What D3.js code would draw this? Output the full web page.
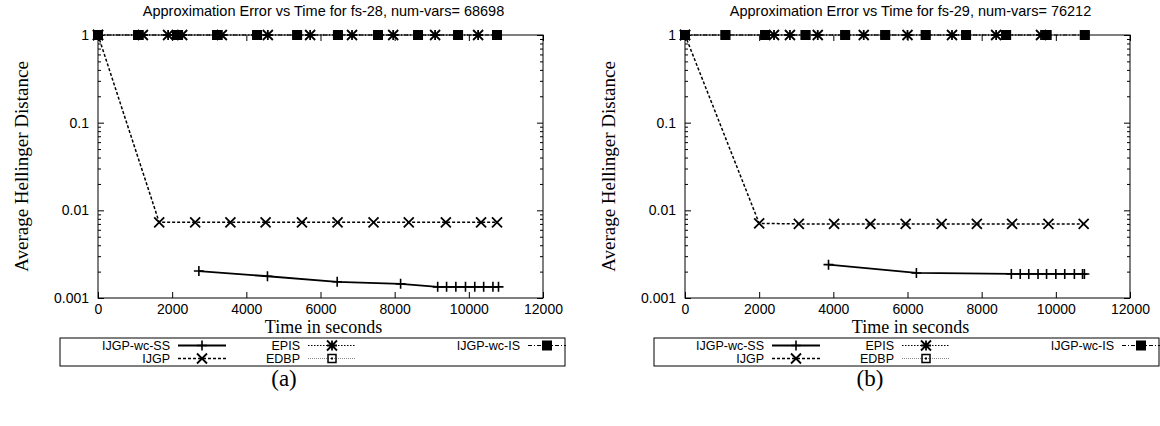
<!DOCTYPE html>
<html>
<head>
<meta charset="utf-8">
<script src="https://cdn.jsdelivr.net/npm/d3@7/dist/d3.min.js"></script>
<style>
body { margin: 0; background: #fff; }
</style>
</head>
<body>
<div id="canvas"></div>
<script>
// ---- data ----
const xTicks = [0, 2000, 4000, 6000, 8000, 10000, 12000];
const yTicks = [1, 0.1, 0.01, 0.001];
const seriesNames = ["IJGP-wc-SS", "IJGP", "EPIS", "EDBP", "IJGP-wc-IS"];

// panel (a) fs-28
const ssTimesA = [2720, 4570, 6450, 8160, 9160, 9400, 9650, 9910, 10160, 10400, 10650, 10800];
const ssValsA = [0.00203, 0.00177, 0.00153, 0.00145, 0.00134, 0.00134, 0.00134, 0.00134, 0.00134, 0.00134, 0.00134, 0.00134];
const ijgpTimesA = [0, 1650, 2620, 3570, 4520, 5500, 6460, 7430, 8380, 9380, 10330, 10760];
const ijgpValsA = [1, 0.0073, 0.0073, 0.0073, 0.0073, 0.0073, 0.0073, 0.0073, 0.0073, 0.0073, 0.0073, 0.0073];
const episTimesA = [0, 1210, 1890, 2270, 3340, 4580, 5720, 6850, 7960, 9090, 10250];
const episValsA = [1, 1, 1, 1, 1, 1, 1, 1, 1, 1, 1];
const edbpTimesA = [0, 1080, 2130, 3210, 4290, 5370, 6470, 7550, 8630, 9710, 10760];
const edbpValsA = [1, 1, 1, 1, 1, 1, 1, 1, 1, 1, 1];
const isTimesA = [0, 1080, 2130, 3210, 4290, 5370, 6470, 7550, 8630, 9710, 10760];
const isValsA = [1, 1, 1, 1, 1, 1, 1, 1, 1, 1, 1];

// panel (b) fs-29
const ssTimesB = [3870, 6240, 8800, 9040, 9270, 9520, 9750, 10000, 10240, 10500, 10720, 10770];
const ssValsB = [0.0024, 0.00193, 0.00188, 0.00188, 0.00188, 0.00188, 0.00188, 0.00188, 0.00188, 0.00188, 0.00188, 0.00188];
const ijgpTimesB = [0, 2000, 3070, 4020, 5000, 5950, 6920, 7870, 8820, 9800, 10750];
const ijgpValsB = [1, 0.0071, 0.0070, 0.0070, 0.0070, 0.0070, 0.0070, 0.0070, 0.0070, 0.0070, 0.0070];
const episTimesB = [0, 2400, 2830, 3580, 4820, 6000, 7200, 8390, 9600];
const episValsB = [1, 1, 1, 1, 1, 1, 1, 1, 1];
const edbpTimesB = [0, 1090, 2160, 3250, 4320, 5400, 6490, 7580, 8660, 9750, 10780];
const edbpValsB = [1, 1, 1, 1, 1, 1, 1, 1, 1, 1, 1];
const isTimesB = [0, 1090, 2160, 3250, 4320, 5400, 6490, 7580, 8660, 9750, 10780];
const isValsB = [1, 1, 1, 1, 1, 1, 1, 1, 1, 1, 1];

const zip = (t, v) => t.map((d, i) => ({ t: d, v: v[i] }));

const panels = [
    {
        title: "Approximation Error vs Time for fs-28, num-vars= 68698",
        caption: "(a)", left: 98, capX: 284, legLeft: 60,
        series: [zip(ssTimesA, ssValsA), zip(ijgpTimesA, ijgpValsA), zip(episTimesA, episValsA),
                 zip(edbpTimesA, edbpValsA), zip(isTimesA, isValsA)]
    },
    {
        title: "Approximation Error vs Time for fs-29, num-vars= 76212",
        caption: "(b)", left: 685, capX: 870, legLeft: 654,
        series: [zip(ssTimesB, ssValsB), zip(ijgpTimesB, ijgpValsB), zip(episTimesB, episValsB),
                 zip(edbpTimesB, edbpValsB), zip(isTimesB, isValsB)]
    }
];

// line / marker styles per series
const styles = [
    { dash: null, w: 1.8, color: "#000", mark: "plus" },
    { dash: "3,2", w: 1.5, color: "#000", mark: "cross" },
    { dash: "1.5,1.5", w: 1.2, color: "#000", mark: "star" },
    { dash: "1,1", w: 1, color: "#888", mark: "box" },
    { dash: "4,2,1,2", w: 1.2, color: "#000", mark: "square" }
];

const width = 1160, height = 426;
const pw = 445, plotTop = 35, plotBottom = 298;
const sans = "'Liberation Sans', Arial, sans-serif";
const serif = "'Liberation Serif', 'Times New Roman', serif";

const svg = d3.select("#canvas").append("svg")
    .attr("width", width).attr("height", height);

function marker(sel, type, cx, cy) {
    const s = 5;
    if (type === "square") {
        sel.append("rect").attr("x", cx - 5).attr("y", cy - 5)
            .attr("width", 10).attr("height", 10).attr("fill", "#000");
        return;
    }
    if (type === "box") {
        sel.append("rect").attr("x", cx - 4).attr("y", cy - 4)
            .attr("width", 8).attr("height", 8).attr("fill", "none")
            .attr("stroke", "#000").attr("stroke-width", 1.5);
        sel.append("rect").attr("x", cx - 1).attr("y", cy - 1)
            .attr("width", 2).attr("height", 2).attr("fill", "#000");
        return;
    }
    let d = "";
    if (type === "plus" || type === "star") d += `M${cx - s},${cy}H${cx + s}M${cx},${cy - s}V${cy + s}`;
    if (type === "cross" || type === "star") d += `M${cx - s},${cy - s}L${cx + s},${cy + s}M${cx - s},${cy + s}L${cx + s},${cy - s}`;
    sel.append("path").attr("d", d).attr("fill", "none")
        .attr("stroke", "#000").attr("stroke-width", type === "plus" ? 1.6 : 1.8);
}

panels.forEach(p => {
    const g = svg.append("g");
    const x = d3.scaleLinear().domain([0, 12000]).range([p.left, p.left + pw]);
    const y = d3.scaleLog().domain([0.001, 1]).range([plotBottom, plotTop]);

    // minor log ticks
    const minors = [];
    [0.001, 0.01, 0.1].forEach(dec => { for (let k = 2; k <= 9; k++) minors.push(dec * k); });

    g.append("g").attr("transform", `translate(0,${plotBottom})`)
        .call(d3.axisBottom(x).tickValues(xTicks).tickSize(-6).tickPadding(6).tickFormat(d3.format("d")));
    g.append("g").attr("transform", `translate(0,${plotTop})`)
        .call(d3.axisTop(x).tickValues(xTicks).tickSize(-6).tickFormat(""));
    g.append("g").attr("transform", `translate(${p.left},0)`)
        .call(d3.axisLeft(y).tickValues(yTicks).tickSize(-6).tickPadding(9).tickFormat(d => String(d)));
    g.append("g").attr("transform", `translate(${p.left + pw},0)`)
        .call(d3.axisRight(y).tickValues(yTicks).tickSize(-6).tickFormat(""));
    g.append("g").attr("transform", `translate(${p.left},0)`)
        .call(d3.axisLeft(y).tickValues(minors).tickSize(-3).tickFormat(""));
    g.append("g").attr("transform", `translate(${p.left + pw},0)`)
        .call(d3.axisRight(y).tickValues(minors).tickSize(-3).tickFormat(""));

    g.selectAll(".domain").remove();
    g.selectAll(".tick line").attr("stroke", "#000");
    g.selectAll(".tick text").attr("font-family", sans).attr("font-size", 14).attr("fill", "#000");

    g.append("rect").attr("x", p.left).attr("y", plotTop).attr("width", pw).attr("height", plotBottom - plotTop)
        .attr("fill", "none").attr("stroke", "#000").attr("stroke-width", 1);

    // series
    const line = d3.line().x(d => x(d.t)).y(d => y(d.v));
    p.series.forEach((data, i) => {
        const st = styles[i];
        g.append("path").datum(data).attr("d", line)
            .attr("fill", "none").attr("stroke", st.color).attr("stroke-width", st.w)
            .attr("stroke-dasharray", st.dash);
    });
    p.series.forEach((data, i) => {
        const mg = g.append("g");
        data.forEach(d => marker(mg, styles[i].mark, x(d.t), y(d.v)));
    });

    // texts
    g.append("text").attr("x", p.left + pw / 2 + 3).attr("y", 16).attr("text-anchor", "middle")
        .attr("font-family", sans).attr("font-size", 14.5).text(p.title);
    g.append("text").attr("transform", `translate(${p.left - 77},${(plotTop + plotBottom) / 2}) rotate(-90)`)
        .attr("text-anchor", "middle").attr("dominant-baseline", "central")
        .attr("font-family", serif).attr("font-size", 19).text("Average Hellinger Distance");
    g.append("text").attr("x", p.left + pw / 2 + 3).attr("y", 333).attr("text-anchor", "middle")
        .attr("font-family", serif).attr("font-size", 18).text("Time in seconds");
    g.append("text").attr("x", p.capX).attr("y", 386).attr("text-anchor", "middle")
        .attr("font-family", serif).attr("font-size", 23).text(p.caption);

    // legend
    const lg = g.append("g");
    lg.append("rect").attr("x", p.legLeft).attr("y", 338).attr("width", 505).attr("height", 28)
        .attr("fill", "#fff").attr("stroke", "#000").attr("stroke-width", 1);
    const colEnd = [110, 240, 460];
    const slots = [[0, 0], [0, 1], [1, 0], [1, 1], [2, 0]];
    seriesNames.forEach((name, i) => {
        const [c, r] = slots[i];
        const tx = p.legLeft + colEnd[c];
        const ty = 345.5 + r * 13;
        lg.append("text").attr("x", tx).attr("y", ty).attr("text-anchor", "end")
            .attr("dominant-baseline", "central")
            .attr("font-family", sans).attr("font-size", 12.5).text(name);
        const st = styles[i];
        const x1 = tx + 8, x2 = tx + (c === 2 ? 46 : 56);
        lg.append("line").attr("x1", x1).attr("x2", x2).attr("y1", ty).attr("y2", ty)
            .attr("stroke", st.color).attr("stroke-width", st.w).attr("stroke-dasharray", st.dash);
        marker(lg, st.mark, (x1 + x2) / 2, ty);
    });
});
</script>
</body>
</html>
